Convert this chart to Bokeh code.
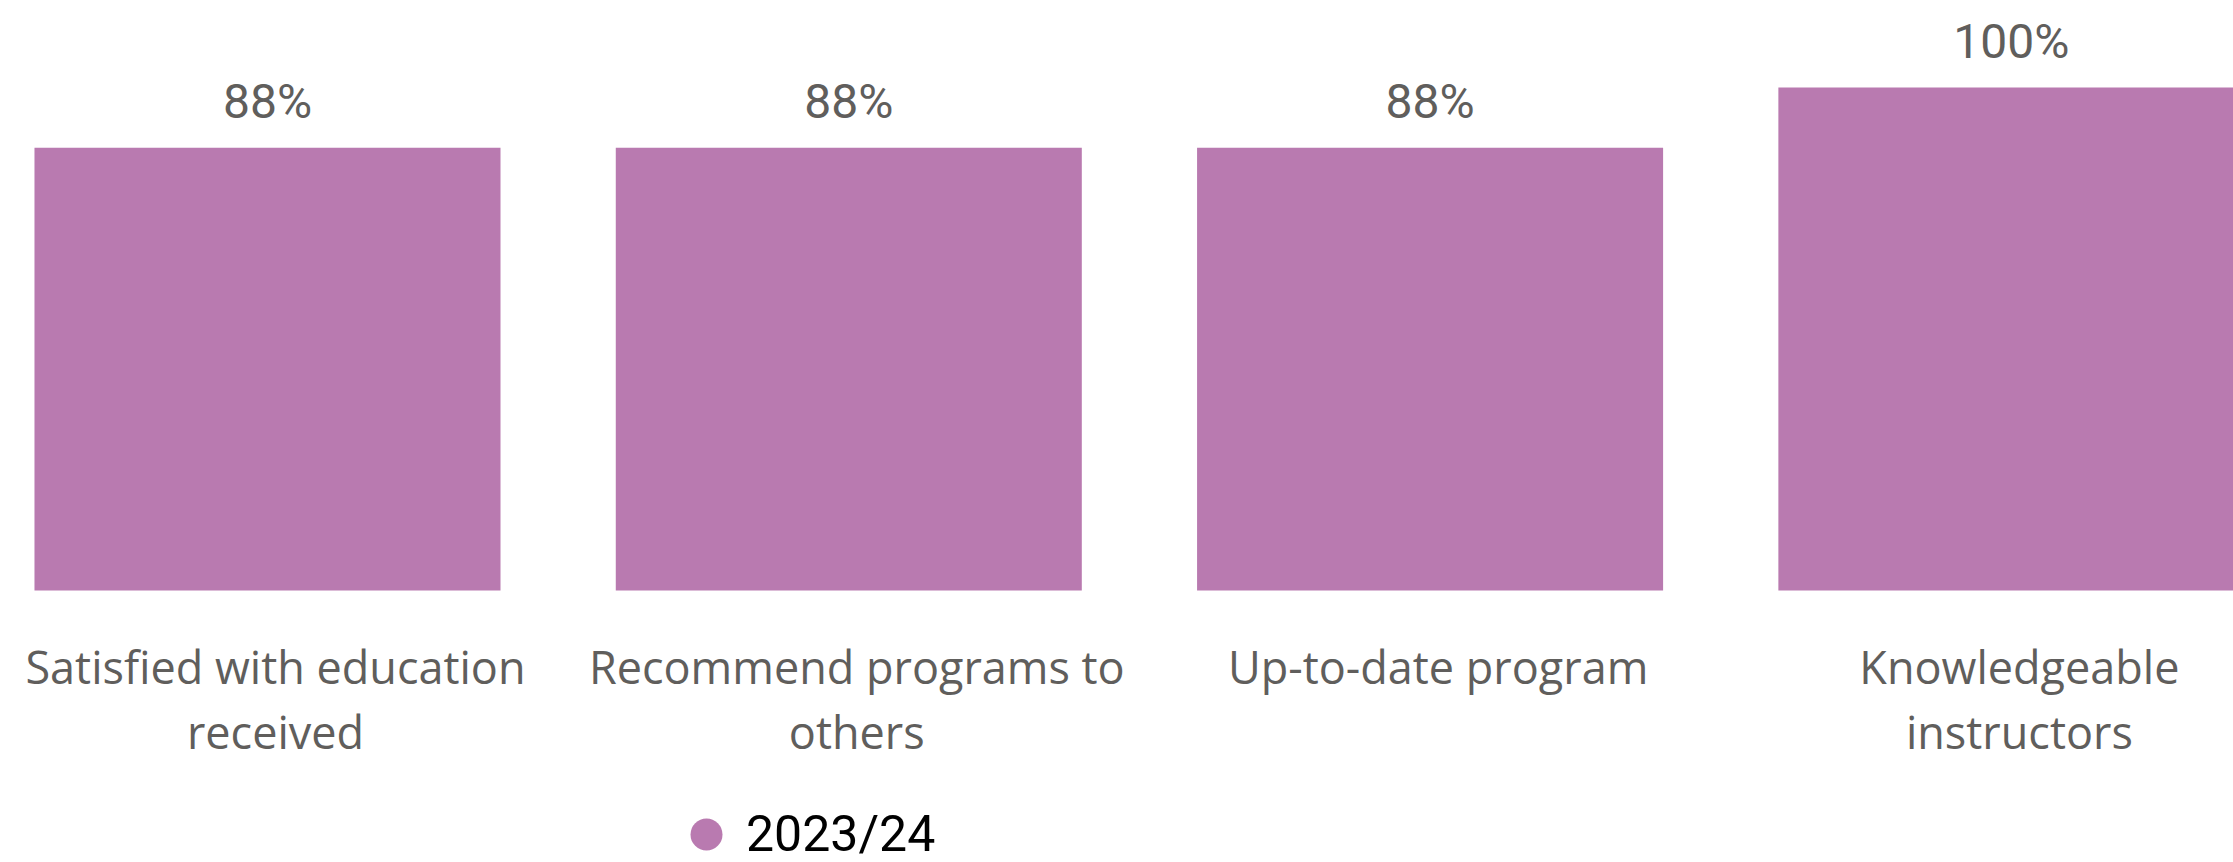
from bokeh.plotting import figure
from bokeh.models import Range1d, Legend, LegendItem, ColumnDataSource
from bokeh.core.properties import value
from bokeh.embed import file_html
from bokeh.resources import INLINE

categories = [
    "Satisfied with education\nreceived",
    "Recommend programs to\nothers",
    "Up-to-date program",
    "Knowledgeable\ninstructors",
]
values_2324 = [88, 88, 88, 100]
value_labels = ["88%", "88%", "88%", "100%"]
series_name = "2023/24"

BAR_COLOR = "#B97AB0"
TEXT_GREY = "#605E5C"

idx = list(range(len(categories)))
src = ColumnDataSource(dict(x=idx, top=values_2324, lab=value_labels,
                            cat=categories, base=[0] * len(idx)))

p = figure(
    width=2233, height=862,
    x_range=Range1d(-0.4593, 3.3821),
    y_range=Range1d(-54.08, 117.30),
    output_backend="svg", toolbar_location=None,
    min_border_left=0, min_border_right=0, min_border_top=0, min_border_bottom=0,
    x_axis_location=None, y_axis_location=None,
)
p.outline_line_color = None
p.xgrid.visible = False
p.ygrid.visible = False
p.background_fill_color = "white"
p.border_fill_color = "white"

# bars
p.vbar(x="x", top="top", bottom=0, width=0.8017, source=src,
       fill_color=BAR_COLOR, line_color=None)

# value labels above bars
p.text(x="x", y="top", text="lab", source=src, y_offset=-46,
       text_align="center", text_baseline="alphabetic",
       text_font=value("Roboto"), text_font_size="48px", text_color=TEXT_GREY)

# category labels under the baseline (act as the x axis labels)
p.text(x="x", y="base", text="cat", source=src, y_offset=46, x_offset=8,
       text_align="center", text_baseline="top", text_line_height=1.05,
       text_font=value("Open Sans"), text_font_size="45px", text_color=TEXT_GREY)

# legend (marker-only renderer that carries the legend swatch)
swatch_src = ColumnDataSource(dict(x=[float("nan")], y=[float("nan")]))
swatch = p.scatter(x="x", y="y", source=swatch_src, marker="circle",
                   fill_color=BAR_COLOR, line_color=None)
legend = Legend(
    items=[LegendItem(label=series_name, renderers=[swatch])],
    location=(666, -12),
    glyph_width=80, glyph_height=80,
    label_standoff=0,
    label_text_font="Roboto", label_text_font_size="50px",
    label_text_color="black", label_text_baseline="middle",
    padding=0, margin=0, spacing=0,
    background_fill_alpha=0, border_line_alpha=0,
)
p.add_layout(legend, "center")

open("out.html", "w").write(file_html(p, INLINE))
